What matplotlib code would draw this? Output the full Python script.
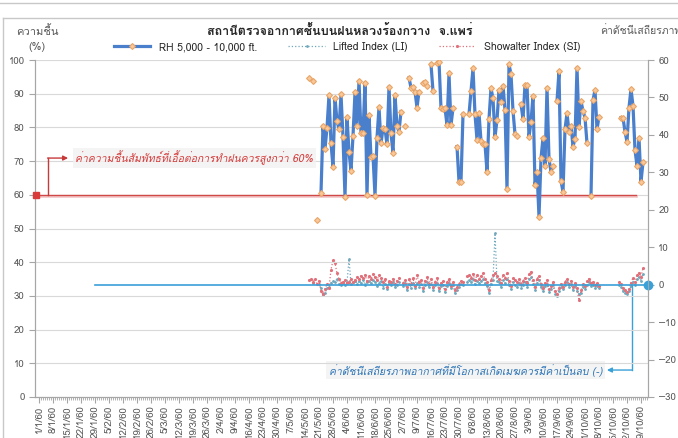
import numpy as np
import matplotlib
matplotlib.use('Agg')
import matplotlib.pyplot as plt
from matplotlib import font_manager
from matplotlib.ft2font import FT2Font
from matplotlib.lines import Line2D

nan = float('nan')

# day index counted from 1/1/60, the data start on day 135 (16/5/60)
start_day = 135

rh = [94.7, nan, 93.8, nan, 52.5, nan, 60.6, 80.5, 73.6, 79.9,
      89.6, 75.3, 68.2, 88.8, 81.9, 79.5, 89.8, 77.2, 59.4, 83.0,
      72.6, 67.2, 77.4, 90.4, 80.5, 93.8, 78.2, 78.2, 93.3, 59.9,
      83.7, 71.2, 71.6, 59.7, 76.9, 86.0, 75.3, 79.7, 79.5, 75.0,
      92.1, 78.2, 72.5, 89.6, 80.5, 78.7, 84.7, nan, 80.5, nan,
      94.7, 91.8, 92.1, 90.6, 85.9, 90.6, nan, 93.1, 93.5, 92.3,
      nan, 98.7, 90.8, nan, 99.0, 99.5, 85.7, 85.5, 85.7, 80.7,
      96.0, 80.7, 85.7, nan, 74.3, 63.9, 63.9, 83.9, nan, nan,
      83.9, 90.8, 97.5, 83.9, 76.3, 84.2, 76.0, 75.0, 75.0, 66.9,
      82.5, 91.6, 88.6, 77.2, 82.2, 91.1, 87.6, 92.4, 85.2, 61.7,
      98.7, 95.8, 84.9, 78.0, 77.5, nan, 86.9, 82.5, 92.6, 92.6,
      77.2, 81.7, 89.4, 62.9, 66.9, 53.5, 70.8, 76.9, 68.6, 91.8,
      70.6, 66.9, 68.4, nan, 87.8, 96.7, 64.1, 60.9, 79.5, 84.2,
      78.7, 80.5, 74.3, 76.6, 97.7, 80.2, 87.8, 84.9, 82.9, 75.3,
      nan, 59.7, 88.1, 91.1, 79.4, 83.2, nan, nan, nan, nan,
      nan, nan, nan, nan, nan, nan, 82.9, 82.9, 78.7, 75.8,
      85.9, 91.4, 86.4, 73.3, 68.6, 76.9, 63.9, 69.6]

li = [nan, nan, 0.5, nan, nan, 0.2, -1.0, -2.8, -2.2, -1.0,
      -0.5, 0.5, 1.0, 0.8, 1.5, 0.2, 0.0, 0.4, -0.2, 0.6,
      6.8, 0.2, 0.6, 1.0, 0.3, 0.9, 0.5, 1.2, 0.0, 0.7,
      1.0, 0.4, 1.3, 0.8, -0.3, 0.5, 1.0, -0.8, 0.2, -1.2,
      0.4, -0.2, 0.6, -0.6, 0.0, 0.8, nan, -0.3, 0.5, -1.4,
      0.2, -0.8, 0.5, -1.0, 0.4, -0.5, 0.3, -1.6, 0.0, 0.6,
      -0.7, 0.2, -1.3, -0.2, 0.5, -1.8, -0.4, 0.0, -2.0, -0.4,
      0.4, -1.0, -0.2, -2.2, -1.4, -0.5, 0.2, -0.1, nan, 0.8,
      1.2, 0.6, 1.4, 0.2, 1.0, 0.5, 0.9, 1.5, 0.4, -0.4,
      -2.2, 0.3, 1.2, 13.7, 1.0, 0.6, -0.5, 1.2, 0.4, 1.6,
      0.0, -1.2, 0.6, 0.0, -0.6, 0.4, -0.8, 0.0, 0.8, -0.6,
      1.4, 2.0, 0.2, -1.4, 0.4, 1.2, -0.6, -1.8, -0.4, 0.2,
      -2.0, -1.2, -0.2, -2.4, -3.0, -1.6, -0.6, -1.2, 0.0, 0.6,
      -0.5, 0.2, -1.4, -0.4, -1.8, -2.6, -2.2, -0.6, -1.2, 0.0,
      0.8, -0.4, 0.0, -1.0, -0.3, -1.0, nan, nan, nan, nan,
      nan, nan, nan, nan, nan, 0.0, -0.6, -1.6, -2.2, -2.6,
      -1.8, -0.4, 0.8, -0.2, 1.5, 2.0, 1.0, 2.8]

si = [1.2, 1.5, 0.8, 1.6, 0.3, 1.0, -1.8, -2.5, -1.2, 0.2,
      -0.8, 4.0, 6.5, 5.8, 3.0, 1.5, 0.5, 0.8, 1.2, 0.5,
      0.8, 1.5, 0.6, 1.2, 2.0, 1.4, 2.4, 1.8, 2.6, 1.0,
      2.2, 1.5, 2.8, 2.1, 1.2, 2.5, 1.8, 0.6, 1.4, -0.5,
      1.0, 0.8, 1.6, 0.2, 1.1, 1.8, nan, 0.5, 1.2, -0.6,
      1.4, 0.3, 1.7, -0.4, 2.5, 0.6, 1.3, -0.8, 1.0, 2.0,
      0.2, 1.5, -0.5, 0.8, 1.8, -0.9, 0.4, 0.9, -1.2, 0.6,
      1.4, -0.3, 0.8, -1.5, -0.6, 0.3, 1.0, 0.8, nan, 2.2,
      2.6, 1.8, 2.9, 1.2, 2.5, 1.6, 2.2, 3.0, 1.4, 0.8,
      -1.5, 1.2, 2.5, 3.0, 2.2, 1.6, 0.5, 2.6, 1.8, 3.2,
      1.0, -0.4, 1.8, 1.2, 0.6, 1.4, 0.2, 1.0, 1.8, 0.4,
      2.8, 3.5, 1.2, -0.6, 1.5, 2.4, 0.3, -0.8, 0.5, 1.2,
      -1.2, -0.4, 0.6, -1.6, -2.4, -0.8, 0.2, -0.5, 0.8, 1.4,
      0.3, 1.0, -0.6, 0.4, -1.0, -4.2, -1.5, 0.2, -0.4, 0.9,
      1.6, 0.4, 0.8, -0.2, 0.5, -0.3, nan, nan, nan, nan,
      nan, nan, nan, nan, nan, 0.8, 0.2, -0.8, -1.5, -2.0,
      -1.2, 0.5, 1.8, 0.6, 2.5, 3.2, 2.0, 4.5]

date_labels = ['1/1/60', '8/1/60', '15/1/60', '22/1/60', '29/1/60', '5/2/60',
               '12/2/60', '19/2/60', '26/2/60', '5/3/60', '12/3/60', '19/3/60',
               '26/3/60', '2/4/60', '9/4/60', '16/4/60', '23/4/60', '30/4/60',
               '7/5/60', '14/5/60', '21/5/60', '28/5/60', '4/6/60', '11/6/60',
               '18/6/60', '25/6/60', '2/7/60', '9/7/60', '16/7/60', '23/7/60',
               '30/7/60', '6/8/60', '13/8/60', '20/8/60', '27/8/60', '3/9/60',
               '10/9/60', '17/9/60', '24/9/60', '1/10/60', '8/10/60', '15/10/60',
               '22/10/60', '29/10/60']

rh_threshold = 60
stability_threshold = 0

title = 'สถานีตรวจอากาศชั้นบนฝนหลวงร้องกวาง  จ.แพร่'
note_rh = 'ค่าความชื้นสัมพัทธ์ที่เอื้อต่อการทำฝนควรสูงกว่า 60%'
note_si = 'ค่าดัชนีเสถียรภาพอากาศที่มีโอกาสเกิดเมฆควรมีค่าเป็นลบ (-)'


def thai_font():
    # look for any installed font that carries Thai glyphs
    for f in font_manager.fontManager.ttflist:
        try:
            if 0x0E01 in FT2Font(f.fname).get_charmap():
                return f.name
        except Exception:
            pass
    return None


tf = thai_font()
fams = ([tf] if tf else []) + ['DejaVu Sans']
plt.rcParams['font.family'] = fams

days = np.arange(start_day, start_day + len(rh))
grey = '#595959'

fig = plt.figure(figsize=(6.78, 4.38), dpi=100)
ax = fig.add_axes([35/678, 1-397/438, 613/678, 337/438])
ax2 = ax.twinx()
ax.set_zorder(ax2.get_zorder() + 1)
ax.patch.set_visible(False)

ax.plot(days, rh, color='#4A7FCC', lw=2.3, marker='D', ms=3,
        mfc='#F8C89A', mec='#E9A568', mew=0.8, label='RH 5,000 - 10,000 ft.')
ax2.plot(days, li, color='#6FA8BC', lw=0.9, ls=':', marker='.', ms=2,
         label='Lifted Index (LI)')
ax2.plot(days, si, color='#E0707A', lw=0.9, ls=':', marker='.', ms=2.5,
         label='Showalter Index (SI)')

ax.set_ylim(0, 100)
ax.set_yticks(np.arange(0, 101, 10))
ax2.set_ylim(-30, 60)
ax2.set_yticks(np.arange(-30, 61, 10))
ax.set_xlim(-2, 304.5)
ax.set_xticks(np.arange(0, 7*len(date_labels), 7))
ax.set_xticklabels(date_labels, rotation=90)
ax.set_xticks(np.arange(0, 305, 1), minor=True)
ax.grid(axis='y', color='#D9D9D9', lw=0.8)
ax.set_axisbelow(True)

for a in (ax, ax2):
    a.spines['top'].set_visible(False)
    for s in ('left', 'right', 'bottom'):
        a.spines[s].set_color('#A6A6A6')
    a.tick_params(colors='#A6A6A6', labelcolor=grey, labelsize=7, length=4)
ax.tick_params(axis='x', which='minor', length=2, colors='#A6A6A6')
ax.tick_params(axis='x', pad=2)

# threshold lines
ax.axhline(rh_threshold - 0.4, xmin=0, xmax=0.98, color='#F4CACA', lw=2, zorder=1)
ax.axhline(rh_threshold, xmin=0, xmax=0.98, color='#D04848', lw=1.0, zorder=1)
ax.plot(-1.5, rh_threshold, marker='s', ms=5, color='#D93A3A', clip_on=False, zorder=5)
ax2.axhline(stability_threshold, xmin=0.098, xmax=1, color='#3AA0D8', lw=1.2)
ax2.plot(1, stability_threshold, marker='o', ms=6, color='#3AA0D8',
         transform=ax2.get_yaxis_transform(), clip_on=False, zorder=5)

# red note with bracket arrow
ty = ax.get_yaxis_transform()
ax.plot([0.021, 0.021], [rh_threshold, 70.9], color='#C83A3A', lw=1, transform=ty, clip_on=False)
ax.annotate('', xy=(0.054, 70.9), xytext=(0.0205, 70.9), xycoords=ty, textcoords=ty,
            arrowprops=dict(arrowstyle='-|>', color='#C83A3A', lw=1, mutation_scale=7,
                            shrinkA=0, shrinkB=0))
ax.text(0.066, 70.9, note_rh, transform=ty, color='#D43A3A', fontsize=7.5, style='italic',
        va='center', ha='left',
        bbox=dict(facecolor='#F2F2F2', edgecolor='none', pad=2, alpha=0.8))

# blue note with bracket arrow
ty2 = ax2.get_yaxis_transform()
ax2.plot([0.974, 0.974], [stability_threshold, -22.8], color='#3AA0D8', lw=1, transform=ty2,
         clip_on=False)
ax2.annotate('', xy=(0.933, -22.8), xytext=(0.9745, -22.8), xycoords=ty2, textcoords=ty2,
             arrowprops=dict(arrowstyle='-|>', color='#3AA0D8', lw=1, mutation_scale=7,
                             shrinkA=0, shrinkB=0))
ax2.text(0.925, -22.8, note_si, transform=ty2, color='#2E75B6', fontsize=7.5, style='italic',
         va='center', ha='right',
         bbox=dict(facecolor='#F2F2F2', edgecolor='none', pad=2, alpha=0.8))

# header texts
fig.text(340/678, 1-31/438, title, ha='center', va='center', fontsize=9, fontweight='bold',
         color='#262626')
fig.text(37/678, 1-31/438, 'ความชื้น', ha='center', va='center', fontsize=8, color=grey)
fig.text(37/678, 1-47/438, '(%)', ha='center', va='center', fontsize=8, color=grey)
fig.text(600/678, 1-31/438, 'ค่าดัชนีเสถียรภาพอากาศ', ha='left', va='center', fontsize=7.5,
         color=grey)

h1, l1 = ax.get_legend_handles_labels()
h2, l2 = ax2.get_legend_handles_labels()
fig.legend(h1 + h2, l1 + l2, loc='center', bbox_to_anchor=(347/678, 1-47/438), ncol=3,
           frameon=False, fontsize=7.5, handlelength=3.5, columnspacing=3, labelcolor='#262626')

# frame lines of the screenshot
fig.add_artist(Line2D([0, 1], [1-3/438, 1-3/438], color='#C8C8C8', lw=1))
fig.add_artist(Line2D([3/678, 1], [1-18/438, 1-18/438], color='#C8C8C8', lw=1))
fig.add_artist(Line2D([3/678, 3/678], [0, 1-18/438], color='#C8C8C8', lw=1))

fig.savefig('out.png', dpi=100)
